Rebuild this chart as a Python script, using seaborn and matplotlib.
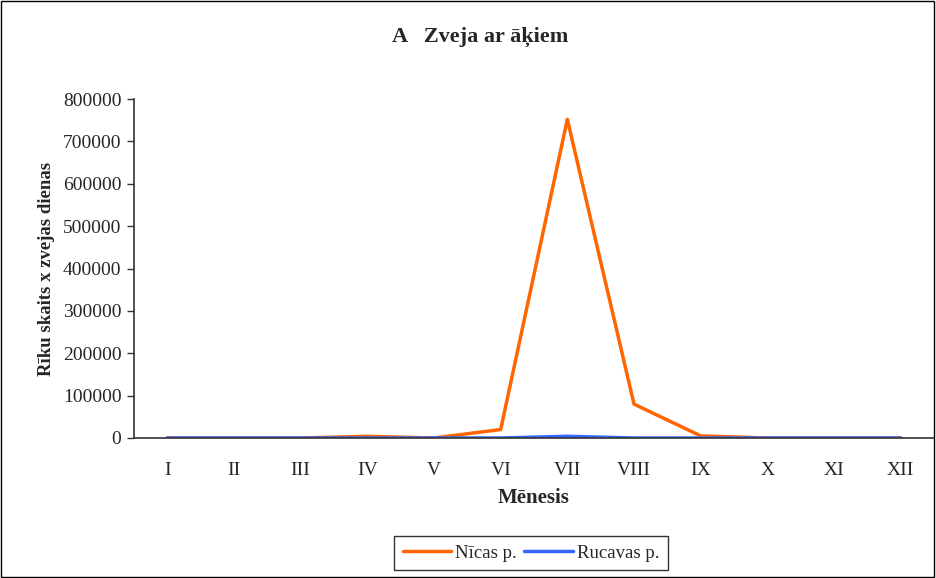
import numpy as np
import pandas as pd
import matplotlib
matplotlib.use("Agg")
import matplotlib.pyplot as plt
import seaborn as sns
from matplotlib.patches import Rectangle

months = ["I", "II", "III", "IV", "V", "VI", "VII", "VIII", "IX", "X", "XI", "XII"]
nicas = [0, 0, 0, 4000, 0, 20000, 752000, 80000, 5000, 0, 0, 0]
rucavas = [0, 0, 0, 0, 0, 0, 4000, 0, 0, 0, 0, 0]

df = pd.DataFrame({
    "pos": list(range(len(months))) * 2,
    "value": nicas + rucavas,
    "series": ["Nīcas p."] * len(months) + ["Rucavas p."] * len(months),
})

sns.set_style("white")
serif = ["Liberation Serif", "DejaVu Serif"]
plt.rcParams["font.family"] = serif

fig = plt.figure(figsize=(9.36, 5.78), dpi=100)
ax = fig.add_axes([134 / 936, 1 - 438 / 578, 800 / 936, 339 / 578])

sns.lineplot(data=df, x="pos", y="value", hue="series",
             palette={"Nīcas p.": "#ff6600", "Rucavas p.": "#3366ff"},
             linewidth=2.5, ax=ax, legend=False)

ax.set_xlim(-0.5, len(months) - 0.5)
ax.set_ylim(0, 800000)
ax.set_yticks(np.arange(0, 800001, 100000))
ax.set_yticklabels([str(v) for v in range(0, 800001, 100000)], fontsize=14)
ax.set_xticks(range(len(months)))
ax.set_xticklabels(months, fontsize=14)
ax.set_xticks(np.arange(-0.5, len(months)), minor=True)
ax.tick_params(axis="x", which="major", length=0, pad=17)
ax.tick_params(axis="x", which="minor", length=6, width=1, color="#333333", direction="out")
ax.tick_params(axis="y", length=5, width=1, color="#333333", direction="out", left=True, pad=4)

for s in ["top", "right"]:
    ax.spines[s].set_visible(False)
for s in ["left", "bottom"]:
    ax.spines[s].set_color("#333333")
    ax.spines[s].set_linewidth(1.2)

ax.set_xlabel("Mēnesis", fontsize=15, fontweight="bold", labelpad=7)
ax.set_ylabel("Rīku skaits x zvejas dienas", fontsize=13.5, fontweight="bold", labelpad=6)
fig.text(480 / 936, 1 - 37 / 578, "A   Zveja ar āķiem", ha="center", va="center",
         fontsize=16, fontweight="bold")

handles = [plt.Line2D([], [], color="#ff6600", lw=2.5),
           plt.Line2D([], [], color="#3366ff", lw=2.5)]
leg = fig.legend(handles, ["Nīcas p.", "Rucavas p."], loc="center",
                 bbox_to_anchor=(531 / 936, 1 - 553 / 578), ncol=2,
                 prop={"family": serif, "size": 13.5},
                 frameon=True, fancybox=False, handlelength=2.6, handletextpad=0.2,
                 columnspacing=0.4, borderpad=0.45, borderaxespad=0)
leg.get_frame().set_edgecolor("#000000")
leg.get_frame().set_linewidth(1)

fig.patches.append(Rectangle((0.001, 0.001), 0.997, 0.997, transform=fig.transFigure,
                             fill=False, edgecolor="#000000", linewidth=1))

fig.savefig("out.png", dpi=100)
